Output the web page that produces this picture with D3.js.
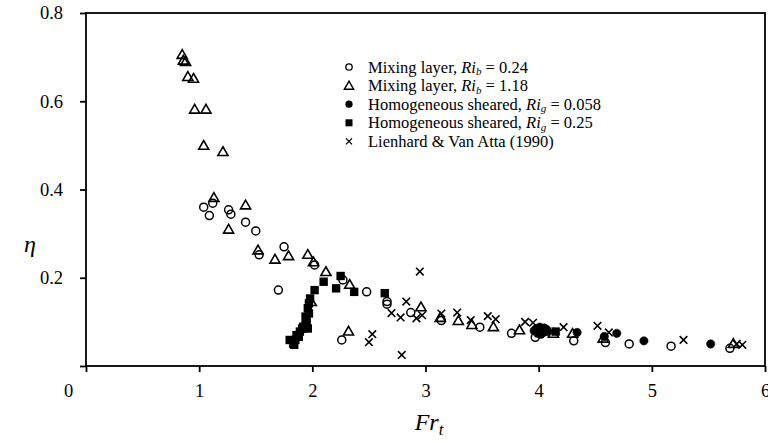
<!DOCTYPE html>
<html lang="en">

<head>
    <meta charset="UTF-8">
    <title>eta vs Fr_t</title>
    <style>
        body {
            margin: 0;
            background: white;
        }

        text {
            font-family: "Liberation Serif", "Times New Roman", serif;
        }
    </style>
</head>

<body>
    <div id="target"></div>

    <script src="https://d3js.org/d3.v7.min.js"></script>
    <script>
        // series values, [Fr_t, eta]
        const mixingLow = [
            [1.04, 0.36], [1.09, 0.341], [1.12, 0.369], [1.26, 0.354], [1.28, 0.344],
            [1.41, 0.326], [1.50, 0.306], [1.53, 0.252], [1.70, 0.172], [1.75, 0.27],
            [2.02, 0.229], [2.26, 0.059], [2.27, 0.195], [2.48, 0.168], [2.66, 0.146],
            [2.66, 0.14], [2.87, 0.121], [3.14, 0.103], [3.48, 0.088], [3.76, 0.074],
            [3.97, 0.065], [4.31, 0.057], [4.59, 0.053], [4.80, 0.05], [5.17, 0.045],
            [5.69, 0.04]
        ];
        const mixingHigh = [
            [0.85, 0.706], [0.86, 0.693], [0.88, 0.69], [0.90, 0.656], [0.95, 0.652],
            [0.96, 0.582], [1.06, 0.582], [1.04, 0.50], [1.21, 0.486], [1.13, 0.382],
            [1.41, 0.365], [1.26, 0.31], [1.52, 0.263], [1.67, 0.242], [1.79, 0.25],
            [1.96, 0.253], [2.01, 0.236], [2.12, 0.214], [1.99, 0.146], [2.33, 0.185],
            [2.32, 0.079], [2.96, 0.134], [3.13, 0.11], [3.29, 0.103], [3.41, 0.094],
            [3.60, 0.089], [3.83, 0.082], [4.13, 0.074], [4.30, 0.074], [4.57, 0.063],
            [5.72, 0.051]
        ];
        const shearedLow = [
            [3.96, 0.08], [3.98, 0.085], [3.99, 0.074], [4.00, 0.078], [4.01, 0.088],
            [4.02, 0.072], [4.03, 0.082], [4.04, 0.076], [4.05, 0.086], [4.06, 0.08],
            [4.07, 0.083], [4.08, 0.078], [4.34, 0.076], [4.58, 0.067], [4.69, 0.074],
            [4.93, 0.057], [5.52, 0.05]
        ];
        const shearedHigh = [
            [1.80, 0.059], [1.83, 0.051], [1.84, 0.048], [1.85, 0.059], [1.86, 0.07],
            [1.88, 0.066], [1.89, 0.078], [1.91, 0.085], [1.92, 0.089], [1.94, 0.093],
            [1.94, 0.112], [1.95, 0.10], [1.96, 0.085], [1.96, 0.131], [1.97, 0.119],
            [1.97, 0.142], [1.98, 0.153], [2.02, 0.172], [2.10, 0.191], [2.21, 0.176],
            [2.25, 0.204], [2.37, 0.168], [2.64, 0.165], [4.15, 0.078]
        ];
        const lienhard = [
            [2.50, 0.054], [2.53, 0.072], [2.70, 0.12], [2.78, 0.11], [2.79, 0.025],
            [2.83, 0.146], [2.92, 0.108], [2.95, 0.214], [2.97, 0.115], [3.14, 0.119],
            [3.28, 0.121], [3.40, 0.104], [3.55, 0.113], [3.62, 0.106], [3.88, 0.10],
            [3.95, 0.098], [4.22, 0.088], [4.52, 0.091], [4.62, 0.076], [5.28, 0.059],
            [5.75, 0.05], [5.80, 0.048]
        ];

        const xTicks = [0, 1, 2, 3, 4, 5, 6];
        const yTicks = [0, 0.2, 0.4, 0.6, 0.8];

        const width = 768;
        const height = 443;
        const margin = { left: 86, right: 3, top: 13, bottom: 77 };

        const svg = d3.select("#target")
            .append("svg")
            .attr("width", width)
            .attr("height", height);

        const x = d3.scaleLinear().domain([0, 6]).range([margin.left, width - margin.right]);
        const y = d3.scaleLinear().domain([0, 0.8]).range([height - margin.bottom, margin.top]);

        // frame
        svg.append("rect")
            .attr("x", x(0))
            .attr("y", y(0.8))
            .attr("width", x(6) - x(0))
            .attr("height", y(0) - y(0.8))
            .attr("fill", "none")
            .attr("stroke", "black")
            .attr("stroke-width", 1.8);

        // x axis
        const xAxis = svg.append("g")
            .attr("transform", `translate(0,${y(0)})`)
            .call(d3.axisBottom(x).tickValues(xTicks).tickFormat(d3.format("d")).tickSize(6).tickPadding(12));
        xAxis.select(".domain").remove();
        xAxis.selectAll("line").attr("stroke-width", 1.8);
        xAxis.selectAll("text")
            .style("font-family", "Liberation Serif")
            .style("font-size", "18.5px")
            .attr("fill", "black")
            .attr("dx", d => d === 0 ? -18 : 0);

        // y axis
        const yAxis = svg.append("g")
            .attr("transform", `translate(${x(0)},0)`)
            .call(d3.axisLeft(y).tickValues(yTicks).tickFormat(d => d === 0 ? "" : d3.format(".1f")(d)).tickSize(6).tickPadding(17));
        yAxis.select(".domain").remove();
        yAxis.selectAll("line").attr("stroke-width", 1.8);
        yAxis.selectAll("text")
            .style("font-family", "Liberation Serif")
            .style("font-size", "18.5px")
            .attr("fill", "black");

        // axis titles
        svg.append("text")
            .attr("x", 30)
            .attr("y", 252)
            .attr("text-anchor", "middle")
            .attr("font-size", 24)
            .attr("font-style", "italic")
            .text("η");

        const xt = svg.append("text")
            .attr("x", 429)
            .attr("y", 430)
            .attr("text-anchor", "middle")
            .attr("font-size", 24)
            .attr("font-style", "italic");
        xt.append("tspan").text("Fr");
        xt.append("tspan").attr("font-size", 17).attr("dy", 5).text("t");

        // marker drawers
        const tri = d3.symbol().type(d3.symbolTriangle).size(44);

        function circles(g, data, filled) {
            g.selectAll("circle")
                .data(data)
                .join("circle")
                .attr("cx", d => x(d[0]))
                .attr("cy", d => y(d[1]))
                .attr("r", filled ? 4.2 : 4)
                .attr("fill", filled ? "black" : "none")
                .attr("stroke", "black")
                .attr("stroke-width", filled ? 0.5 : 1.5);
        }

        circles(svg.append("g"), mixingLow, false);

        svg.append("g").selectAll("path")
            .data(mixingHigh)
            .join("path")
            .attr("d", tri)
            .attr("transform", d => `translate(${x(d[0])},${y(d[1]) + 1})`)
            .attr("fill", "none")
            .attr("stroke", "black")
            .attr("stroke-width", 1.6);

        circles(svg.append("g"), shearedLow, true);

        svg.append("g").selectAll("rect")
            .data(shearedHigh)
            .join("rect")
            .attr("x", d => x(d[0]) - 4.2)
            .attr("y", d => y(d[1]) - 4.2)
            .attr("width", 8.4)
            .attr("height", 8.4)
            .attr("fill", "black");

        svg.append("g").selectAll("path")
            .data(lienhard)
            .join("path")
            .attr("d", d => {
                const cx = x(d[0]), cy = y(d[1]), s = 3.8;
                return `M${cx - s},${cy - s}L${cx + s},${cy + s}M${cx - s},${cy + s}L${cx + s},${cy - s}`;
            })
            .attr("stroke", "black")
            .attr("stroke-width", 1.6);

        // legend
        const legendX = 349;
        const legendY = 67;
        const rowH = 18.6;
        const legendItems = [
            { kind: "circle", pre: "Mixing layer, ", sub: "b", post: " = 0.24" },
            { kind: "triangle", pre: "Mixing layer, ", sub: "b", post: " = 1.18" },
            { kind: "dot", pre: "Homogeneous sheared, ", sub: "g", post: " = 0.058" },
            { kind: "square", pre: "Homogeneous sheared, ", sub: "g", post: " = 0.25" },
            { kind: "cross", text: "Lienhard & Van Atta (1990)" }
        ];

        const lg = svg.append("g");
        legendItems.forEach((item, i) => {
            const cy = legendY + i * rowH;
            if (item.kind === "circle") {
                lg.append("circle").attr("cx", legendX).attr("cy", cy).attr("r", 3.2)
                    .attr("fill", "none").attr("stroke", "black").attr("stroke-width", 1.3);
            } else if (item.kind === "triangle") {
                lg.append("path").attr("d", d3.symbol().type(d3.symbolTriangle).size(38))
                    .attr("transform", `translate(${legendX},${cy + 1})`)
                    .attr("fill", "none").attr("stroke", "black").attr("stroke-width", 1.4);
            } else if (item.kind === "dot") {
                lg.append("circle").attr("cx", legendX).attr("cy", cy).attr("r", 3.6).attr("fill", "black");
            } else if (item.kind === "square") {
                lg.append("rect").attr("x", legendX - 3.5).attr("y", cy - 3.5)
                    .attr("width", 7).attr("height", 7).attr("fill", "black");
            } else {
                const s = 3;
                lg.append("path")
                    .attr("d", `M${legendX - s},${cy - s}L${legendX + s},${cy + s}M${legendX - s},${cy + s}L${legendX + s},${cy - s}`)
                    .attr("stroke", "black").attr("stroke-width", 1.3);
            }

            const t = lg.append("text")
                .attr("x", legendX + 19)
                .attr("y", cy + 5.5)
                .attr("font-size", 16.5);
            if (item.text) {
                t.text(item.text);
            } else {
                t.append("tspan").text(item.pre);
                t.append("tspan").attr("font-style", "italic").text("Ri");
                t.append("tspan").attr("font-style", "italic").attr("font-size", 11).attr("dy", 2.5).text(item.sub);
                t.append("tspan").attr("dy", -2.5).text(item.post);
            }
        });
    </script>

</body>

</html>
